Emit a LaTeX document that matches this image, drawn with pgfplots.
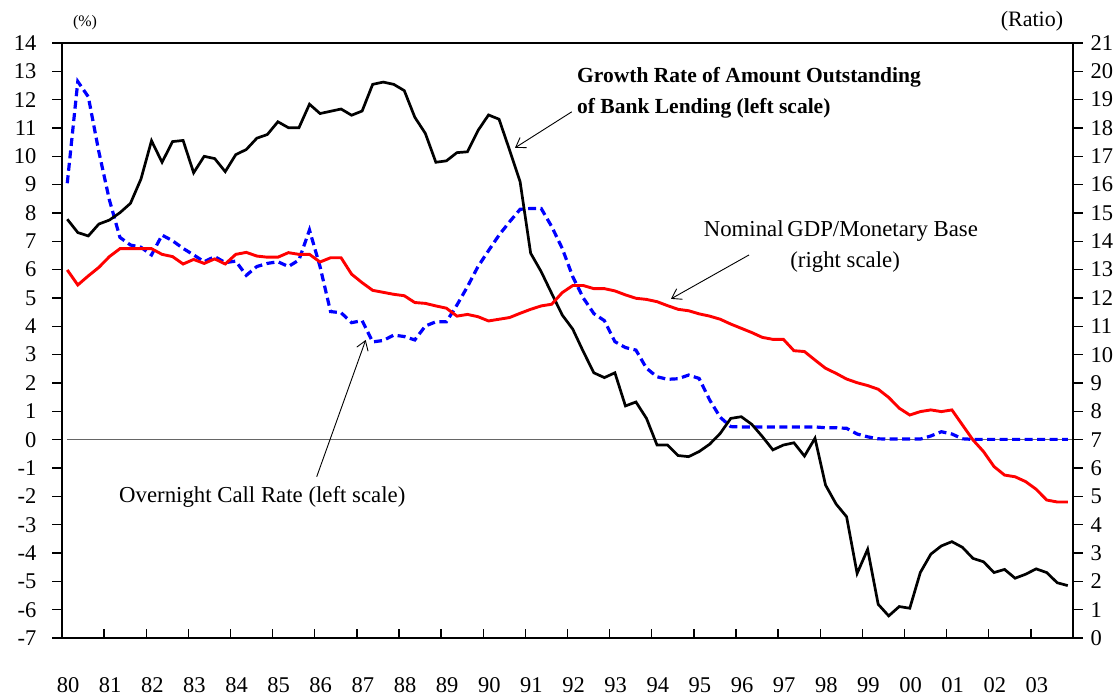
\documentclass[border=0pt]{standalone}
\usepackage{fontspec}
\setmainfont{Liberation Serif}
\usepackage{pgfplots}
\pgfplotsset{compat=1.18}
\usetikzlibrary{arrows.meta}

\pgfplotstableread{
x v
1980.125 7.78
1980.375 7.31
1980.625 7.19
1980.875 7.61
1981.125 7.75
1981.375 8.01
1981.625 8.34
1981.875 9.20
1982.125 10.55
1982.375 9.79
1982.625 10.52
1982.875 10.56
1983.125 9.42
1983.375 10.00
1983.625 9.92
1983.875 9.46
1984.125 10.06
1984.375 10.24
1984.625 10.64
1984.875 10.77
1985.125 11.22
1985.375 11.01
1985.625 11.01
1985.875 11.84
1986.125 11.51
1986.375 11.59
1986.625 11.67
1986.875 11.45
1987.125 11.60
1987.375 12.54
1987.625 12.62
1987.875 12.54
1988.125 12.32
1988.375 11.38
1988.625 10.81
1988.875 9.79
1989.125 9.84
1989.375 10.13
1989.625 10.16
1989.875 10.91
1990.125 11.46
1990.375 11.31
1990.625 10.22
1990.875 9.10
1991.125 6.58
1991.375 5.93
1991.625 5.16
1991.875 4.40
1992.125 3.90
1992.375 3.11
1992.625 2.36
1992.875 2.19
1993.125 2.36
1993.375 1.19
1993.625 1.33
1993.875 0.75
1994.125 -0.19
1994.375 -0.19
1994.625 -0.56
1994.875 -0.60
1995.125 -0.42
1995.375 -0.16
1995.625 0.22
1995.875 0.75
1996.125 0.81
1996.375 0.54
1996.625 0.11
1996.875 -0.36
1997.125 -0.19
1997.375 -0.11
1997.625 -0.58
1997.875 0.05
1998.125 -1.60
1998.375 -2.27
1998.625 -2.72
1998.875 -4.72
1999.125 -3.87
1999.375 -5.81
1999.625 -6.22
1999.875 -5.89
2000.125 -5.95
2000.375 -4.69
2000.625 -4.04
2000.875 -3.75
2001.125 -3.60
2001.375 -3.80
2001.625 -4.19
2001.875 -4.31
2002.125 -4.69
2002.375 -4.58
2002.625 -4.89
2002.875 -4.75
2003.125 -4.56
2003.375 -4.69
2003.625 -5.05
2003.875 -5.15
}\lending

\pgfplotstableread{
x v
1980.125 9.05
1980.375 12.64
1980.625 12.10
1980.875 10.16
1981.125 8.46
1981.375 7.14
1981.625 6.87
1981.875 6.79
1982.125 6.52
1982.375 7.22
1982.625 7.02
1982.875 6.75
1983.125 6.52
1983.375 6.28
1983.625 6.46
1983.875 6.25
1984.125 6.30
1984.375 5.80
1984.625 6.11
1984.875 6.22
1985.125 6.28
1985.375 6.11
1985.625 6.34
1985.875 7.40
1986.125 6.11
1986.375 4.52
1986.625 4.48
1986.875 4.13
1987.125 4.20
1987.375 3.45
1987.625 3.50
1987.875 3.69
1988.125 3.64
1988.375 3.52
1988.625 4.01
1988.875 4.16
1989.125 4.16
1989.375 4.75
1989.625 5.40
1989.875 6.11
1990.125 6.67
1990.375 7.22
1990.625 7.69
1990.875 8.13
1991.125 8.16
1991.375 8.16
1991.625 7.52
1991.875 6.75
1992.125 5.75
1992.375 5.00
1992.625 4.45
1992.875 4.20
1993.125 3.46
1993.375 3.25
1993.625 3.16
1993.875 2.52
1994.125 2.22
1994.375 2.13
1994.625 2.15
1994.875 2.28
1995.125 2.16
1995.375 1.40
1995.625 0.79
1995.875 0.46
1996.125 0.45
1996.375 0.45
1996.625 0.45
1996.875 0.45
1997.125 0.45
1997.375 0.45
1997.625 0.45
1997.875 0.45
1998.125 0.42
1998.375 0.42
1998.625 0.40
1998.875 0.20
1999.125 0.10
1999.375 0.03
1999.625 0.02
1999.875 0.02
2000.125 0.02
2000.375 0.02
2000.625 0.13
2000.875 0.28
2001.125 0.20
2001.375 0.03
2001.625 0.01
2001.875 0.01
2002.125 0.01
2002.375 0.01
2002.625 0.01
2002.875 0.01
2003.125 0.01
2003.375 0.01
2003.625 0.01
2003.875 0.01
}\callrate

\pgfplotstableread{
x v
1980.125 12.99
1980.375 12.46
1980.625 12.78
1980.875 13.08
1981.125 13.46
1981.375 13.74
1981.625 13.74
1981.875 13.74
1982.125 13.74
1982.375 13.54
1982.625 13.46
1982.875 13.20
1983.125 13.36
1983.375 13.22
1983.625 13.38
1983.875 13.20
1984.125 13.54
1984.375 13.61
1984.625 13.48
1984.875 13.44
1985.125 13.44
1985.375 13.60
1985.625 13.54
1985.875 13.54
1986.125 13.27
1986.375 13.42
1986.625 13.42
1986.875 12.84
1987.125 12.54
1987.375 12.27
1987.625 12.20
1987.875 12.13
1988.125 12.08
1988.375 11.84
1988.625 11.81
1988.875 11.72
1989.125 11.64
1989.375 11.36
1989.625 11.42
1989.875 11.34
1990.125 11.19
1990.375 11.25
1990.625 11.31
1990.875 11.46
1991.125 11.60
1991.375 11.72
1991.625 11.78
1991.875 12.19
1992.125 12.44
1992.375 12.44
1992.625 12.33
1992.875 12.33
1993.125 12.25
1993.375 12.11
1993.625 11.99
1993.875 11.95
1994.125 11.87
1994.375 11.73
1994.625 11.60
1994.875 11.55
1995.125 11.44
1995.375 11.36
1995.625 11.25
1995.875 11.08
1996.125 10.93
1996.375 10.78
1996.625 10.61
1996.875 10.54
1997.125 10.54
1997.375 10.14
1997.625 10.11
1997.875 9.81
1998.125 9.52
1998.375 9.34
1998.625 9.14
1998.875 9.01
1999.125 8.91
1999.375 8.78
1999.625 8.49
1999.875 8.11
2000.125 7.87
2000.375 7.99
2000.625 8.05
2000.875 7.99
2001.125 8.05
2001.375 7.52
2001.625 6.99
2001.875 6.58
2002.125 6.05
2002.375 5.75
2002.625 5.69
2002.875 5.52
2003.125 5.25
2003.375 4.87
2003.625 4.80
2003.875 4.80
}\ratio

\newcommand{\tickfont}{\fontsize{22.5}{24}\selectfont}
\newcommand{\annfont}{\fontsize{22.8}{25}\selectfont}
\newcommand{\boldannfont}{\fontsize{21.5}{24}\selectfont\bfseries}

\begin{document}
\begin{tikzpicture}
% main axis (left scale)
\begin{axis}[
  at={(0pt,0pt)}, anchor=south west,
  width=1011pt, height=595pt, scale only axis,
  xmin=1980, xmax=2004, ymin=-7, ymax=14,
  xtick=\empty,
  ytick={-7,-6,...,14},
  ytick pos=left,
  tick align=outside,
  major tick length=10pt,
  axis line style={line width=1.6pt},
  tick style={line width=1.4pt, black},
  /pgf/number format/assume math mode=true,
  yticklabel style={font=\tickfont, xshift=-12pt},
  clip=false,
]
\addplot[black!60, line width=0.8pt] coordinates {(1980.12,0) (2004,0)};
\addplot[blue, line width=3.2pt, dash pattern=on 8pt off 4.5pt] table[x=x,y=v] {\callrate};
\addplot[black, line width=2.7pt] table[x=x,y=v] {\lending};

\node[anchor=west, font=\boldannfont, inner sep=0pt] at (axis cs:1992.226,12.80) {Growth Rate of Amount Outstanding};
\node[anchor=west, font=\boldannfont, inner sep=0pt] at (axis cs:1992.226,11.71) {of Bank Lending (left scale)};
\node[font=\annfont, inner sep=0pt] at (axis cs:1998.49,7.36) {Nominal\hspace{-2pt} GDP/Monetary Base};
\node[font=\annfont, inner sep=0pt] at (axis cs:1998.59,6.27) {(right scale)};
\node[anchor=west, font=\annfont, inner sep=0pt] at (axis cs:1981.353,-2.01) {Overnight Call Rate (left scale)};

\draw[-{Straight Barb[length=9pt,width=12pt]}, line width=0.9pt] (axis cs:1992.10,11.57) -- (axis cs:1990.754,10.30);
\draw[-{Straight Barb[length=9pt,width=12pt]}, line width=0.9pt] (axis cs:1996.31,6.52) -- (axis cs:1994.457,4.97);
\draw[-{Straight Barb[length=9pt,width=12pt]}, line width=0.9pt] (axis cs:1986.046,-1.31) -- (axis cs:1987.21,3.52);
\end{axis}

% right axis (ratio)
\begin{axis}[
  at={(0pt,0pt)}, anchor=south west,
  width=1011pt, height=595pt, scale only axis,
  xmin=1980, xmax=2004, ymin=0, ymax=21,
  axis x line=none,
  axis y line*=right,
  ytick={0,1,...,21},
  tick align=outside,
  major tick length=10pt,
  axis line style={line width=1.6pt},
  tick style={line width=1.4pt, black},
  /pgf/number format/assume math mode=true,
  yticklabel style={font=\tickfont, xshift=4pt},
]
\addplot[red, line width=2.9pt] table[x=x,y=v] {\ratio};
\end{axis}

% x ticks (inside)
\begin{axis}[
  at={(0pt,0pt)}, anchor=south west,
  width=1011pt, height=595pt, scale only axis,
  xmin=1980, xmax=2004, ymin=0, ymax=1,
  hide y axis,
  axis x line*=bottom,
  xtick={1980,1981,...,2003},
  xticklabels={80,81,82,83,84,85,86,87,88,89,90,91,92,93,94,95,96,97,98,99,00,01,02,03},
  tick align=inside,
  major tick length=9pt,
  axis line style={line width=1.6pt},
  tick style={line width=1.4pt, black},
  xticklabel style={font=\tickfont, xshift=6pt, yshift=-36pt},
]
\addplot[draw=none] coordinates {(1980,0) (2004,1)};
\end{axis}

\node[font=\fontsize{16}{18}\selectfont] at (23pt,615pt) {(\%)};
\node[font=\fontsize{22}{24}\selectfont] at (970pt,617pt) {(Ratio)};

\pgfresetboundingbox
\path (-62pt,-62pt) rectangle (1053pt,638pt);
\end{tikzpicture}
\end{document}
